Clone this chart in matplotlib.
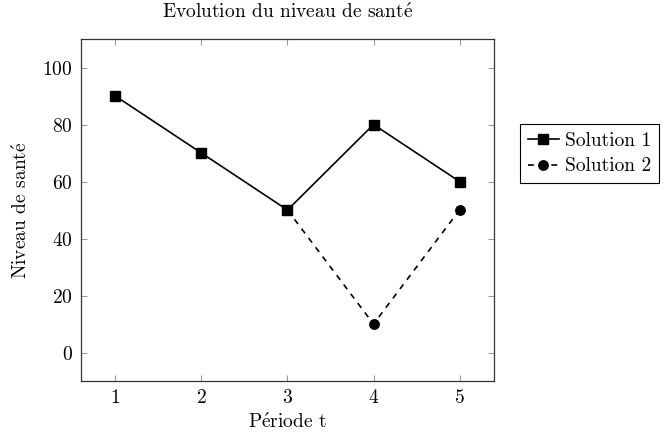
import matplotlib
matplotlib.use('Agg')
import matplotlib.pyplot as plt

plt.rcParams['font.family'] = ['cmr10', 'DejaVu Serif']
plt.rcParams['axes.formatter.use_mathtext'] = True
plt.rcParams['mathtext.fontset'] = 'cm'

periods = [1, 2, 3, 4, 5]
sol1 = [90, 70, 50, 80, 60]
sol2_t = [3, 4, 5]
sol2 = [50, 10, 50]
yticks = [0, 20, 40, 60, 80, 100]

# e accent aigu via mathtext (cmr10 has no é)
e_acute = r'$\acute{\mathrm{e}}$'

fig = plt.figure(figsize=(6.66, 4.37), dpi=100)
ax = fig.add_axes([0.1216, 0.1281, 0.6201, 0.7826])

l1, = ax.plot(periods, sol1, color='black', lw=1.2, marker='s', ms=6.8,
              label='Solution 1')
l2, = ax.plot(sol2_t, sol2, color='black', lw=1.2, marker='o', ms=6.8,
              dashes=(3.5, 3.5), label='Solution 2')

ax.set_xlim(0.6, 5.4)
ax.set_ylim(-10, 110)
ax.set_xticks(periods)
ax.set_yticks(yticks)
ax.tick_params(direction='in', length=4.5, width=0.8, color='0.6',
               labelsize=14, top=True, right=True, pad=6)
for s in ax.spines.values():
    s.set_linewidth(0.9)
    s.set_color('0.2')

ax.set_title('Evolution du niveau de sant' + e_acute, fontsize=14, pad=15)
ax.set_xlabel('P' + e_acute + 'riode t', fontsize=14, labelpad=4)
ax.set_ylabel('Niveau de sant' + e_acute, fontsize=14, labelpad=8)

leg = fig.legend(handles=[l1, l2], loc='upper left',
                 bbox_to_anchor=(520 / 666, 1 - 124 / 437),
                 fontsize=14, handlelength=1.6, handletextpad=0.3,
                 borderpad=0.4, labelspacing=0.4, fancybox=False,
                 framealpha=1, borderaxespad=0)
leg.get_frame().set_edgecolor('black')
leg.get_frame().set_linewidth(0.8)

fig.savefig('out.png', dpi=100)
